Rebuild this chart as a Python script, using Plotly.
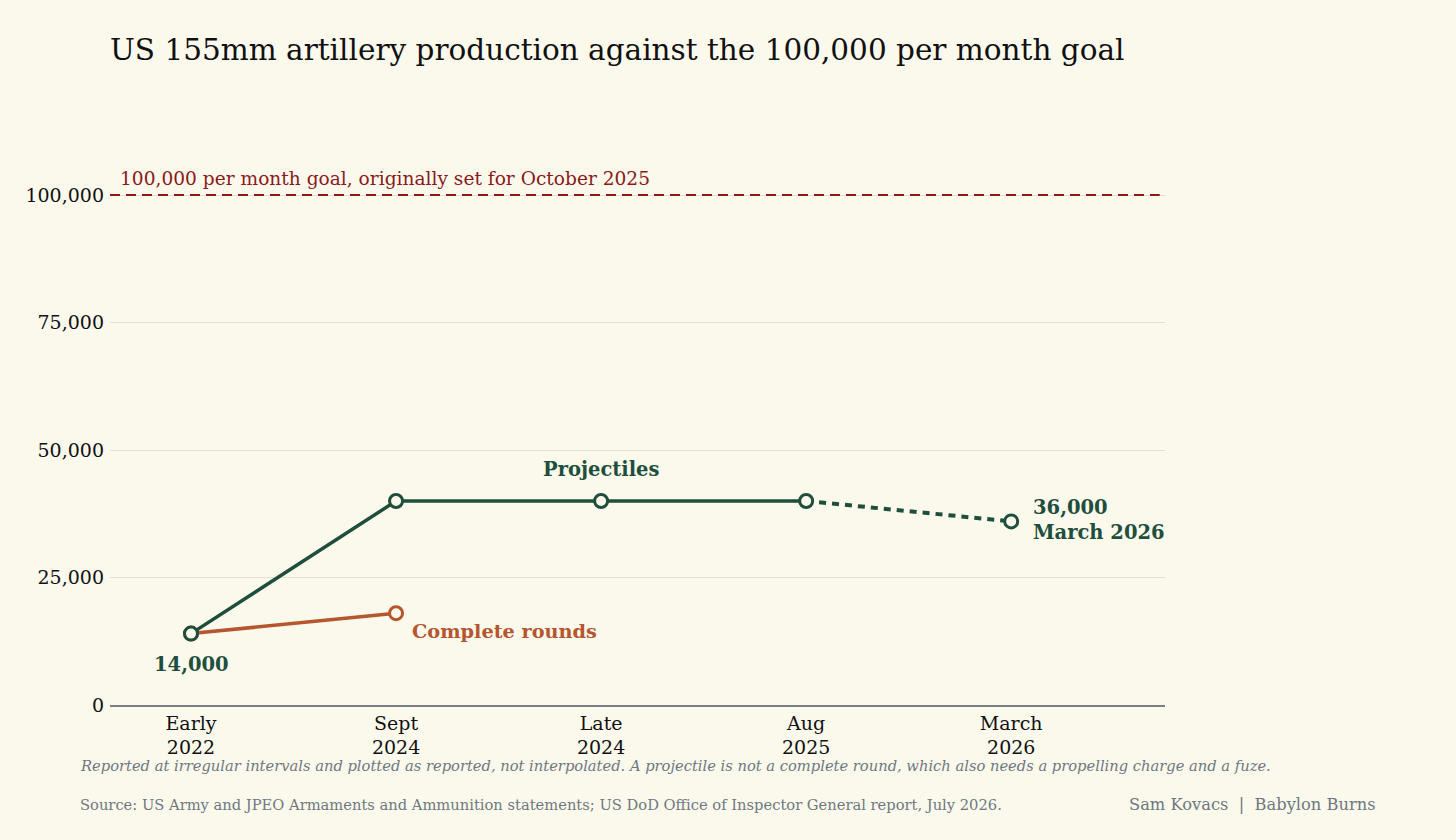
import plotly.graph_objects as go

periods = ["Early<br>2022", "Sept<br>2024", "Late<br>2024", "Aug<br>2025", "March<br>2026"]
projectiles = [14000, 40000, 40000, 40000, 36000]
complete_rounds = [14000, 18000]
goal = 100000
y_ticks = [0, 25000, 50000, 75000, 100000]

BG = "#FBF9EC"
GREEN = "#1F4E3D"
ORANGE = "#B5562E"
RED = "#8B1A1A"
GREY = "#6E7880"
FONT = "DejaVu Serif"

x = list(range(len(periods)))

fig = go.Figure()

# complete rounds
fig.add_trace(go.Scatter(
    x=x[:len(complete_rounds)], y=complete_rounds, mode="lines+markers",
    line=dict(color=ORANGE, width=3.5),
    marker=dict(size=13, color=BG, line=dict(color=ORANGE, width=3)),
    hoverinfo="skip", showlegend=False,
))

# projectiles, reported
fig.add_trace(go.Scatter(
    x=x[:4], y=projectiles[:4], mode="lines",
    line=dict(color=GREEN, width=3.5),
    hoverinfo="skip", showlegend=False,
))
# projectiles, latest (dotted)
fig.add_trace(go.Scatter(
    x=x[3:], y=projectiles[3:], mode="lines",
    line=dict(color=GREEN, width=4, dash="7px,6px"),
    hoverinfo="skip", showlegend=False,
))
fig.add_trace(go.Scatter(
    x=x, y=projectiles, mode="markers",
    marker=dict(size=13, color=BG, line=dict(color=GREEN, width=3)),
    hoverinfo="skip", showlegend=False,
))

# goal line
fig.add_shape(type="line", xref="paper", yref="y", x0=0, x1=0.995, y0=goal, y1=goal,
              line=dict(color=RED, width=2, dash="10px,6px"))
fig.add_annotation(xref="paper", yref="y", x=0.0075, y=goal, yshift=17, xanchor="left",
                   text="100,000 per month goal, originally set for October 2025",
                   showarrow=False, font=dict(size=18.6, color=RED, family=FONT))

# labels
bold = dict(size=19.5, color=GREEN, family=FONT, weight="bold")
fig.add_annotation(x=x[0], y=projectiles[0], yshift=-31, text="14,000",
                   showarrow=False, font=bold)
fig.add_annotation(x=x[2], y=projectiles[2], yshift=32, text="Projectiles",
                   showarrow=False, font=bold)
fig.add_annotation(x=x[1], y=complete_rounds[1], xshift=14, yshift=-18, xanchor="left",
                   text="Complete rounds", showarrow=False,
                   font=dict(size=19.3, color=ORANGE, family=FONT, weight="bold"))
fig.add_annotation(x=x[4], y=projectiles[4], xshift=20, yshift=1, xanchor="left",
                   align="left", text="36,000<br>March 2026", showarrow=False, font=bold)

# footer
fig.add_annotation(xref="paper", yref="paper", x=-32 / 1055, y=-135 / 561, yshift=75,
                   xanchor="left", yanchor="middle",
                   text="<i>Reported at irregular intervals and plotted as reported, not interpolated. "
                        "A projectile is not a complete round, which also needs a propelling charge and a fuze.</i>",
                   showarrow=False, font=dict(size=14.7, color=GREY, family=FONT))
fig.add_annotation(xref="paper", yref="paper", x=-32 / 1055, y=-135 / 561, yshift=36,
                   xanchor="left", yanchor="middle",
                   text="Source: US Army and JPEO Armaments and Ammunition statements; "
                        "US DoD Office of Inspector General report, July 2026.",
                   showarrow=False, font=dict(size=14.7, color=GREY, family=FONT))
fig.add_annotation(xref="paper", yref="paper", x=(1378 - 110) / 1055, y=-135 / 561, yshift=36,
                   xanchor="right", yanchor="middle",
                   text="Sam Kovacs  |  Babylon Burns",
                   showarrow=False, font=dict(size=16.3, color=GREY, family=FONT))

fig.update_layout(
    width=1456, height=840,
    paper_bgcolor=BG, plot_bgcolor=BG,
    margin=dict(l=110, r=291, t=144, b=135),
    font=dict(family=FONT, color="#111111", size=19),
    title=dict(text="US 155mm artillery production against the 100,000 per month goal",
               x=110 / 1456, xanchor="left", y=1 - 50 / 840, yanchor="middle",
               font=dict(size=29.5, family=FONT, color="#111111")),
)
fig.update_xaxes(
    range=[-0.395, 4.75], tickvals=x, ticktext=periods,
    showgrid=False, zeroline=False, showline=True, linecolor="#7A8088", linewidth=1.5,
    ticks="", tickfont=dict(size=19), ticklabelstandoff=0, fixedrange=True,
)
fig.update_yaxes(
    range=[0, 110000], tickvals=y_ticks, tickformat=",",
    showgrid=True, gridcolor="#E2E0D2", gridwidth=1, zeroline=False,
    ticks="", tickfont=dict(size=19), ticklabelstandoff=5, fixedrange=True,
)

fig.write_html("out.html", config={"displayModeBar": False},
               post_script="document.body.style.margin='0';")
